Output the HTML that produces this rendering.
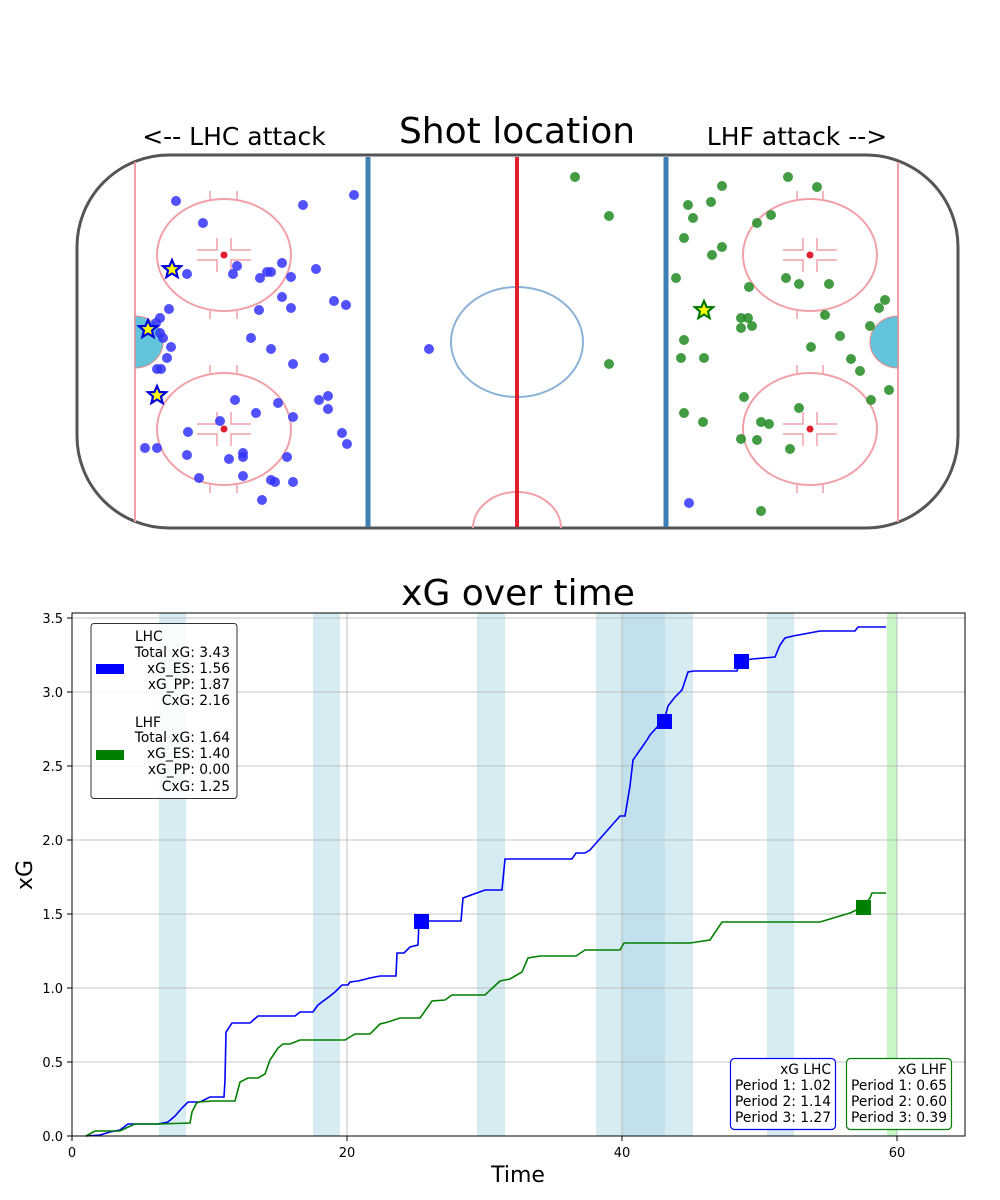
<!DOCTYPE html>
<html><head><meta charset="utf-8"><style>body{margin:0;background:#fff}svg{display:block}text{font-family:"DejaVu Sans","Liberation Sans",sans-serif}</style></head>
<body>
<svg width="1000" height="1200" viewBox="0 0 1000 1200" xmlns="http://www.w3.org/2000/svg">
<rect width="1000" height="1200" fill="#fff"/>
<!-- RINK -->
<rect x="77" y="155" width="881" height="373" rx="92" ry="92" fill="#fff" stroke="#555" stroke-width="3"/>
<g stroke="#f2a0a8" stroke-width="2" fill="none">
<line x1="135" y1="162" x2="135" y2="522"/><line x1="898" y1="162" x2="898" y2="522"/>
<ellipse cx="224" cy="255" rx="67" ry="56"/><ellipse cx="224" cy="429" rx="67" ry="56"/>
<ellipse cx="810" cy="255" rx="67" ry="56"/><ellipse cx="810" cy="429" rx="67" ry="56"/>
<path d="M473 528 A44 36 0 0 1 561 528"/>
</g>
<g stroke="#f2a0a8" stroke-width="1.5" fill="none">
<path d="M197 250h20v-12M197 260h20v12M251 250h-20v-12M251 260h-20v12"/>
<path d="M197 424h20v-12M197 434h20v12M251 424h-20v-12M251 434h-20v12"/>
<path d="M783 250h20v-12M783 260h20v12M837 250h-20v-12M837 260h-20v12"/>
<path d="M783 424h20v-12M783 434h20v12M837 424h-20v-12M837 434h-20v12"/>
<path d="M210 199v-8M237 199v-8M210 311v8M237 311v8M210 373v-8M237 373v-8M210 485v8M237 485v8"/>
<path d="M797 199v-8M823 199v-8M797 311v8M823 311v8M797 373v-8M823 373v-8M797 485v8M823 485v8"/>
</g>
<g fill="#e02030"><circle cx="224" cy="255" r="3.5"/><circle cx="224" cy="429" r="3.5"/><circle cx="810" cy="255" r="3.5"/><circle cx="810" cy="429" r="3.5"/></g>
<path d="M135 316 A28 26 0 0 1 135 368Z" fill="#62c3da" stroke="#e88" stroke-width="1"/>
<path d="M898 316 A28 26 0 0 0 898 368Z" fill="#62c3da" stroke="#e88" stroke-width="1"/>
<line x1="368" y1="157" x2="368" y2="527" stroke="#3e7fb5" stroke-width="5"/>
<line x1="666" y1="157" x2="666" y2="527" stroke="#3e7fb5" stroke-width="5"/>
<ellipse cx="517" cy="342" rx="66" ry="55" fill="none" stroke="#8ab2d6" stroke-width="2"/>
<line x1="517" y1="157" x2="517" y2="527" stroke="#e0202c" stroke-width="4"/>
<text x="517" y="143" font-size="36" text-anchor="middle">Shot location</text>
<text x="234" y="145" font-size="25" text-anchor="middle">&lt;-- LHC attack</text>
<text x="797" y="145" font-size="25" text-anchor="middle">LHF attack --&gt;</text>
<g fill="#3333ff" fill-opacity="0.85">
<circle cx="176" cy="201" r="5"/><circle cx="203" cy="223" r="5"/><circle cx="303" cy="205" r="5"/><circle cx="354" cy="195" r="5"/><circle cx="187" cy="274" r="5"/><circle cx="237" cy="266" r="5"/><circle cx="233" cy="274" r="5"/><circle cx="260" cy="278" r="5"/><circle cx="267" cy="272" r="5"/><circle cx="271" cy="272" r="5"/><circle cx="282" cy="263" r="5"/><circle cx="291" cy="277" r="5"/><circle cx="316" cy="269" r="5"/><circle cx="282" cy="297" r="5"/><circle cx="291" cy="308" r="5"/><circle cx="259" cy="310" r="5"/><circle cx="334" cy="301" r="5"/><circle cx="346" cy="305" r="5"/><circle cx="169" cy="309" r="5"/><circle cx="160" cy="318" r="5"/><circle cx="156" cy="323" r="5"/><circle cx="160" cy="333" r="5"/><circle cx="163" cy="338" r="5"/><circle cx="171" cy="347" r="5"/><circle cx="167" cy="358" r="5"/><circle cx="157" cy="369" r="5"/><circle cx="161" cy="369" r="5"/><circle cx="251" cy="338" r="5"/><circle cx="271" cy="349" r="5"/><circle cx="293" cy="364" r="5"/><circle cx="324" cy="358" r="5"/><circle cx="429" cy="349" r="5"/><circle cx="235" cy="400" r="5"/><circle cx="256" cy="413" r="5"/><circle cx="278" cy="403" r="5"/><circle cx="293" cy="417" r="5"/><circle cx="319" cy="400" r="5"/><circle cx="328" cy="396" r="5"/><circle cx="328" cy="409" r="5"/><circle cx="220" cy="421" r="5"/><circle cx="188" cy="432" r="5"/><circle cx="342" cy="433" r="5"/><circle cx="347" cy="444" r="5"/><circle cx="145" cy="448" r="5"/><circle cx="157" cy="448" r="5"/><circle cx="187" cy="455" r="5"/><circle cx="229" cy="459" r="5"/><circle cx="243" cy="453" r="5"/><circle cx="243" cy="457" r="5"/><circle cx="287" cy="457" r="5"/><circle cx="199" cy="478" r="5"/><circle cx="243" cy="476" r="5"/><circle cx="271" cy="480" r="5"/><circle cx="275" cy="482" r="5"/><circle cx="293" cy="482" r="5"/><circle cx="262" cy="500" r="5"/><circle cx="689" cy="503" r="5"/>
</g>
<g fill="#228b22" fill-opacity="0.85">
<circle cx="575" cy="177" r="5"/><circle cx="609" cy="216" r="5"/><circle cx="609" cy="364" r="5"/><circle cx="788" cy="177" r="5"/><circle cx="817" cy="187" r="5"/><circle cx="722" cy="186" r="5"/><circle cx="688" cy="205" r="5"/><circle cx="711" cy="202" r="5"/><circle cx="693" cy="218" r="5"/><circle cx="771" cy="215" r="5"/><circle cx="757" cy="223" r="5"/><circle cx="684" cy="238" r="5"/><circle cx="722" cy="247" r="5"/><circle cx="712" cy="255" r="5"/><circle cx="676" cy="278" r="5"/><circle cx="786" cy="278" r="5"/><circle cx="799" cy="284" r="5"/><circle cx="829" cy="284" r="5"/><circle cx="749" cy="287" r="5"/><circle cx="885" cy="300" r="5"/><circle cx="879" cy="308" r="5"/><circle cx="825" cy="315" r="5"/><circle cx="741" cy="318" r="5"/><circle cx="748" cy="318" r="5"/><circle cx="741" cy="328" r="5"/><circle cx="752" cy="326" r="5"/><circle cx="870" cy="326" r="5"/><circle cx="840" cy="336" r="5"/><circle cx="684" cy="340" r="5"/><circle cx="811" cy="347" r="5"/><circle cx="681" cy="358" r="5"/><circle cx="704" cy="358" r="5"/><circle cx="851" cy="359" r="5"/><circle cx="860" cy="371" r="5"/><circle cx="889" cy="390" r="5"/><circle cx="871" cy="400" r="5"/><circle cx="744" cy="397" r="5"/><circle cx="799" cy="408" r="5"/><circle cx="684" cy="413" r="5"/><circle cx="703" cy="422" r="5"/><circle cx="761" cy="422" r="5"/><circle cx="769" cy="424" r="5"/><circle cx="741" cy="439" r="5"/><circle cx="757" cy="440" r="5"/><circle cx="790" cy="449" r="5"/><circle cx="761" cy="511" r="5"/>
</g>
<g stroke-width="2.2" fill="#ffff00">
<path stroke="#0000dd" transform="translate(172,269)" d="M0,-9 L2.6,-3 9,-2.8 4,1.5 5.6,8 0,4.5 -5.6,8 -4,1.5 -9,-2.8 -2.6,-3Z"/>
<path stroke="#0000dd" transform="translate(148,329)" d="M0,-9 L2.6,-3 9,-2.8 4,1.5 5.6,8 0,4.5 -5.6,8 -4,1.5 -9,-2.8 -2.6,-3Z"/>
<path stroke="#0000dd" transform="translate(157,395)" d="M0,-9 L2.6,-3 9,-2.8 4,1.5 5.6,8 0,4.5 -5.6,8 -4,1.5 -9,-2.8 -2.6,-3Z"/>
<path stroke="#007700" transform="translate(704,310)" d="M0,-9 L2.6,-3 9,-2.8 4,1.5 5.6,8 0,4.5 -5.6,8 -4,1.5 -9,-2.8 -2.6,-3Z"/>
</g>
<!-- CHART -->
<text x="518" y="605" font-size="36" text-anchor="middle">xG over time</text>
<g fill="#add8e6" fill-opacity="0.5">
<rect x="159" y="613" width="27" height="523"/><rect x="313" y="613" width="27" height="523"/><rect x="477" y="613" width="28" height="523"/><rect x="596" y="613" width="97" height="523"/><rect x="622" y="613" width="43" height="523"/><rect x="767" y="613" width="27" height="523"/>
</g>
<rect x="887" y="613" width="10" height="523" fill="#90ee90" fill-opacity="0.5"/>
<g stroke="#b0b0b0" stroke-width="0.8">
<line x1="347" y1="613" x2="347" y2="1136"/><line x1="622" y1="613" x2="622" y2="1136"/><line x1="897" y1="613" x2="897" y2="1136"/>
<line x1="72" y1="1062" x2="965" y2="1062"/><line x1="72" y1="988" x2="965" y2="988"/><line x1="72" y1="914" x2="965" y2="914"/><line x1="72" y1="840" x2="965" y2="840"/><line x1="72" y1="766" x2="965" y2="766"/><line x1="72" y1="692" x2="965" y2="692"/><line x1="72" y1="618" x2="965" y2="618"/>
</g>
<polyline fill="none" stroke="#0000ff" stroke-width="1.6" points="86,1136 100,1135 110,1132 120,1130 128,1124 158,1124 168,1122 175,1116 182,1108 188,1102 200,1102 210,1097 224,1097 225,1080 226,1032 232,1023 250,1023 258,1016 295,1016 300,1012 313,1012 318,1005 330,996 335,992 342,985 348,985 350,982 358,981 370,978 380,976 396,976 397,953 404,953 410,947 418,945 419,921 461,921 463,898 485,890 502,890 505,859 572,859 576,853 585,853 590,850 620,816 625,816 630,786 633,760 640,750 647,740 650,735 659,725 664,721 668,706 675,697 682,690 688,672 694,671 737,671 740,661 752,659 775,657 780,645 785,638 793,636 820,631 855,631 858,627 886,627"/>
<polyline fill="none" stroke="#008000" stroke-width="1.6" points="86,1136 95,1131 120,1131 126,1128 135,1124 158,1124 190,1123 192,1112 196,1104 198,1102 213,1101 235,1101 240,1082 248,1078 258,1078 265,1074 270,1060 278,1048 283,1044 290,1044 300,1040 345,1040 355,1034 370,1034 380,1024 388,1022 400,1018 420,1018 432,1001 445,1000 452,995 485,995 500,981 510,979 522,972 528,958 540,956 576,956 585,950 620,950 624,943 690,943 710,940 722,922 820,922 850,913 863,907 870,898 872,893 886,893"/>
<g fill="#0000ff"><rect x="414" y="914" width="15" height="15"/><rect x="657" y="714" width="15" height="15"/><rect x="734" y="654" width="15" height="15"/></g>
<rect x="856" y="900" width="15" height="15" fill="#008000"/>
<rect x="72" y="613" width="893" height="523" fill="none" stroke="#000" stroke-width="1"/>
<g stroke="#000"><line x1="72" y1="1136" x2="72" y2="1141"/><line x1="347" y1="1136" x2="347" y2="1141"/><line x1="622" y1="1136" x2="622" y2="1141"/><line x1="897" y1="1136" x2="897" y2="1141"/>
<line x1="67" y1="1136" x2="72" y2="1136"/><line x1="67" y1="1062" x2="72" y2="1062"/><line x1="67" y1="988" x2="72" y2="988"/><line x1="67" y1="914" x2="72" y2="914"/><line x1="67" y1="840" x2="72" y2="840"/><line x1="67" y1="766" x2="72" y2="766"/><line x1="67" y1="692" x2="72" y2="692"/><line x1="67" y1="618" x2="72" y2="618"/></g>
<g font-size="13" text-anchor="middle"><text x="72" y="1157">0</text><text x="347" y="1157">20</text><text x="622" y="1157">40</text><text x="897" y="1157">60</text></g>
<g font-size="13" text-anchor="end"><text x="63" y="1141">0.0</text><text x="63" y="1067">0.5</text><text x="63" y="993">1.0</text><text x="63" y="919">1.5</text><text x="63" y="845">2.0</text><text x="63" y="771">2.5</text><text x="63" y="697">3.0</text><text x="63" y="623">3.5</text></g>
<text x="518" y="1182" font-size="22" text-anchor="middle">Time</text>
<text transform="translate(32,875) rotate(-90)" font-size="22" text-anchor="middle">xG</text>
<!-- legend -->
<rect x="91" y="623.5" width="146" height="175" rx="3" fill="#fff" fill-opacity="0.85" stroke="#333" stroke-width="1"/>
<rect x="96" y="664" width="28" height="10" fill="#0000ff"/><rect x="96" y="750" width="28" height="10" fill="#008000"/>
<g font-size="13.8"><text x="135" y="641">LHC</text><text x="135" y="727">LHF</text></g>
<g font-size="13.8" text-anchor="end"><text x="230" y="657">Total xG: 3.43</text><text x="230" y="673">xG_ES: 1.56</text><text x="230" y="689">xG_PP: 1.87</text><text x="230" y="705">CxG: 2.16</text>
<text x="230" y="742">Total xG: 1.64</text><text x="230" y="758">xG_ES: 1.40</text><text x="230" y="774">xG_PP: 0.00</text><text x="230" y="791">CxG: 1.25</text></g>
<rect x="730.5" y="1058.5" width="105" height="71" rx="4" fill="#fff" stroke="#0000ff" stroke-width="1.2"/>
<rect x="846.5" y="1058.5" width="105" height="71" rx="4" fill="#fff" stroke="#008000" stroke-width="1.2"/>
<g font-size="13.8" text-anchor="end"><text x="831" y="1074">xG LHC</text><text x="831" y="1090">Period 1: 1.02</text><text x="831" y="1106">Period 2: 1.14</text><text x="831" y="1122">Period 3: 1.27</text>
<text x="947" y="1074">xG LHF</text><text x="947" y="1090">Period 1: 0.65</text><text x="947" y="1106">Period 2: 0.60</text><text x="947" y="1122">Period 3: 0.39</text></g>
</svg>
</body></html>
